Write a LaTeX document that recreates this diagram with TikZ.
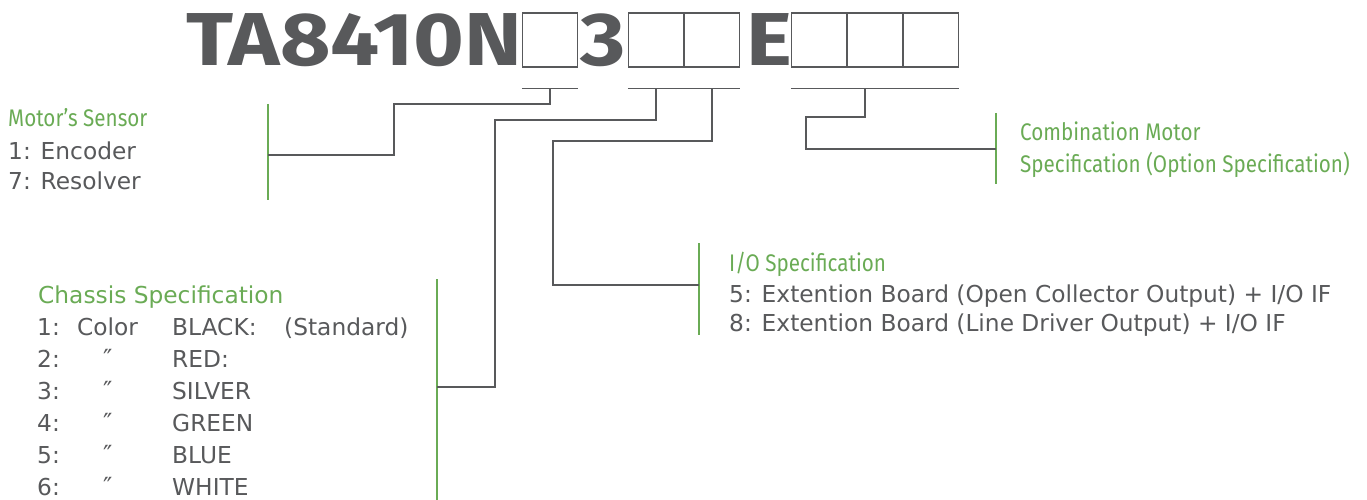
\documentclass[tikz,border=0pt]{standalone}
\usepackage{fontspec}
\setmainfont{DejaVu Sans}
\newfontfamily\condfont[FakeStretch=0.86]{Fira Sans}
\newfontfamily\titlefont[FakeStretch=1.16]{Fira Sans}
\definecolor{txtgray}{HTML}{58595B}
\definecolor{specgreen}{HTML}{6AAB55}
\tikzset{
  conn/.style={draw=txtgray, line width=1.6pt},
  bar/.style={draw=specgreen, line width=2.2pt},
  slot/.style={draw=txtgray, line width=1.3pt, minimum width=55pt, minimum height=54pt, inner sep=0pt},
  head/.style={text=specgreen, anchor=base west, inner sep=0pt, font=\condfont\fontsize{24}{24}\selectfont},
  body/.style={text=txtgray, anchor=base west, inner sep=0pt, font=\fontsize{23.3}{23.3}\selectfont},
  big/.style={text=txtgray, anchor=base west, inner sep=0pt, font=\titlefont\bfseries\fontsize{75}{75}\selectfont},
}
\begin{document}
\begin{tikzpicture}[x=1pt, y=-1pt]
\useasboundingbox (0,0) rectangle (1367,500);

% Model code
\node [big] (model) at (186,66) {TA8410N};
\node [slot] (box1) at (550,40) {};
\node [big, anchor=base] (three) at (603.5,66) {3};
\node [slot] (box2) at (656,40) {};
\node [slot] (box3) at (712,40) {};
\node [big, anchor=base] (ee) at (769,66) {E};
\node [slot] (box4) at (819,40) {};
\node [slot] (box5) at (875,40) {};
\node [slot] (box6) at (931,40) {};

% Ticks under the slots
\draw [conn] ([yshift=-21pt]box1.south west) -- ([yshift=-21pt]box1.south east);
\draw [conn] ([yshift=-21pt]box2.south west) -- ([yshift=-21pt]box2.south east);
\draw [conn] ([yshift=-21pt]box3.south west) -- ([yshift=-21pt]box3.south east);
\draw [conn] ([yshift=-21pt]box4.south west) -- ([yshift=-21pt]box6.south east);
\coordinate (s1) at ([yshift=-21pt]box1.south);
\coordinate (s2) at ([yshift=-21pt]box2.south);
\coordinate (s3) at ([yshift=-21pt]box3.south);
\coordinate (s4) at ([xshift=-10pt, yshift=-21pt]box5.south);

% Motor's sensor
\draw [bar] (268,104) -- (268,200);
\coordinate (mS) at (268,155);
\node [head] (motor) at (8,126) {Motor’s Sensor};
\node [body] (enc) at (8,159) {1: Encoder};
\node [body] (res) at (8,189) {7: Resolver};
\draw [conn] (s1) |- (394,104) |- (mS);

% Chassis
\draw [bar] (437,279) -- (437,500);
\coordinate (cS) at (437,387);
\node [body, text=specgreen] (chassis) at (38,303) {Chassis Specification};
\node [body] (c1) at (37,335) {1:};
\node [body] (cc) at (77,335) {Color};
\node [body] (cb) at (172,335) {BLACK:};
\node [body] (cst) at (284,335) {(Standard)};
\foreach \n/\col [count=\i] in {2/RED:, 3/SILVER, 4/GREEN, 5/BLUE, 6/WHITE}{
  \node [body] (n\n) at (37,335+32*\i) {\n:};
  \node [body, font=\fontsize{25}{25}\selectfont] (d\n) at (103,335+32*\i) {″};
  \node [body] (k\n) at (172,335+32*\i) {\col};
}
\draw [conn] (s2) |- (495,120) |- (cS);

% I/O
\draw [bar] (699,243) -- (699,335);
\coordinate (ioS) at (699,285);
\node [head] (io) at (729,271) {I/O Specification};
\node [body] (io5) at (729,302) {5: Extention Board (Open Collector Output) + I/O IF};
\node [body] (io8) at (729,331) {8: Extention Board (Line Driver Output) + I/O IF};
\draw [conn] (s3) |- (553,141) |- (ioS);

% Combination
\draw [bar] (996,113) -- (996,184);
\coordinate (coS) at (996,149);
\node [head] (comb1) at (1020,140) {Combination Motor};
\node [head] (comb2) at (1020,172) {Specification (Option Specification)};
\draw [conn] (s4) |- (806,117) |- (coS);
\end{tikzpicture}
\end{document}
